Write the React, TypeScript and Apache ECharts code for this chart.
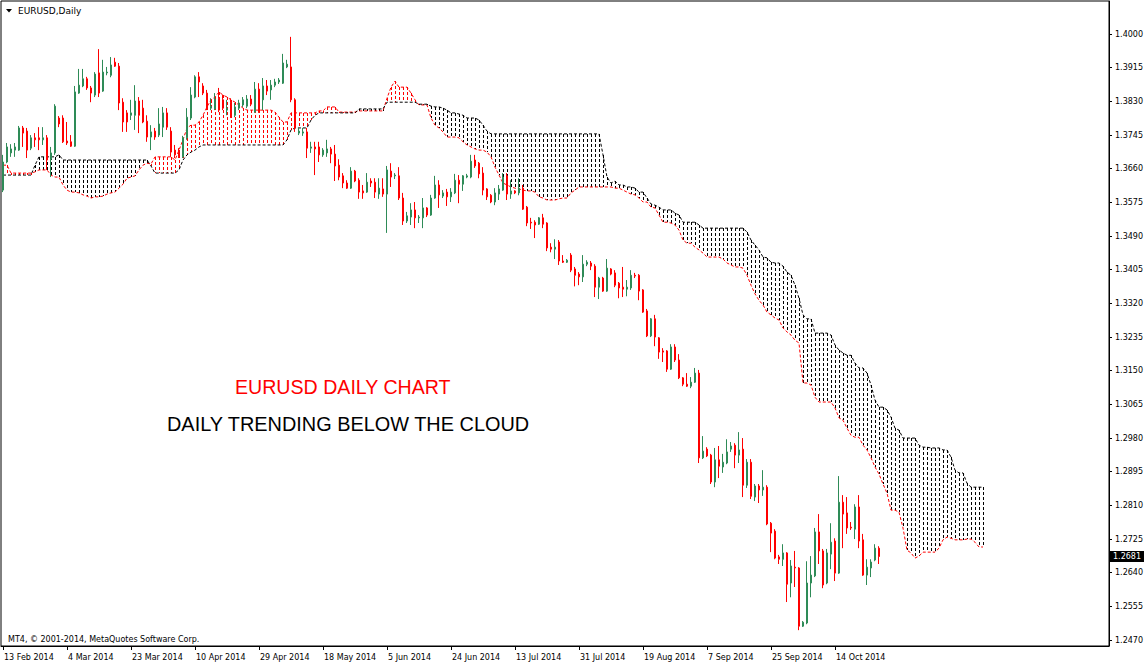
import React, { useEffect, useRef } from "react";
import * as echarts from "echarts";

// Date labels under the x axis, one every 16 daily bars (bar 0 = 13 Feb 2014)
const tickLabels = [
  "13 Feb 2014", "4 Mar 2014", "23 Mar 2014", "10 Apr 2014", "29 Apr 2014",
  "18 May 2014", "5 Jun 2014", "24 Jun 2014", "13 Jul 2014", "31 Jul 2014",
  "19 Aug 2014", "7 Sep 2014", "25 Sep 2014", "14 Oct 2014",
];
const LABEL_STEP = 16;
const TOTAL_SLOTS = 277;

// Price scale labels on the right
const priceTicks = [
  1.4, 1.3915, 1.383, 1.3745, 1.366, 1.3575, 1.349, 1.3405, 1.332, 1.3235,
  1.315, 1.3065, 1.298, 1.2895, 1.281, 1.2725, 1.264, 1.2555, 1.247,
];
const lastPrice = [1.2681];
const priceMin = 1.2455;
const priceMax = 1.40835;

// Daily candles: [open, close, low, high]
const candles = [
  [1.3606,1.3677,1.3601,1.3695],[1.3677,1.3715,1.3674,1.3725],[1.3700,1.3710,1.3690,1.3722],[1.3707,1.3715,1.3690,1.3725],
  [1.3707,1.3763,1.3705,1.3768],[1.3763,1.3750,1.3715,1.3768],[1.3755,1.3707,1.3687,1.3763],[1.3712,1.3738,1.3707,1.3745],
  [1.3738,1.3733,1.3715,1.3750],[1.3738,1.3733,1.3707,1.3765],[1.3733,1.3738,1.3720,1.3765],[1.3738,1.3682,1.3657,1.3745],
  [1.3684,1.3700,1.3639,1.3715],[1.3700,1.3818,1.3695,1.3823],[1.3788,1.3773,1.3765,1.3793],[1.3788,1.3728,1.3725,1.3795],
  [1.3730,1.3725,1.3720,1.3778],[1.3728,1.3717,1.3715,1.3745],[1.3717,1.3854,1.3715,1.3869],[1.3851,1.3871,1.3849,1.3912],
  [1.3869,1.3887,1.3866,1.3912],[1.3887,1.3864,1.3859,1.3892],[1.3864,1.3851,1.3828,1.3869],[1.3846,1.3899,1.3841,1.3904],
  [1.3902,1.3851,1.3841,1.3962],[1.3856,1.3904,1.3854,1.3935],[1.3902,1.3904,1.3896,1.3917],[1.3896,1.3922,1.3891,1.3942],
  [1.3929,1.3919,1.3917,1.3940],[1.3919,1.3826,1.3808,1.3927],[1.3828,1.3778,1.3753,1.3838],[1.3801,1.3778,1.3753,1.3808],
  [1.3795,1.3801,1.3783,1.3834],[1.3795,1.3831,1.3758,1.3871],[1.3831,1.3795,1.3750,1.3841],[1.3813,1.3778,1.3775,1.3834],
  [1.3780,1.3740,1.3728,1.3795],[1.3740,1.3753,1.3707,1.3770],[1.3755,1.3740,1.3733,1.3763],[1.3745,1.3773,1.3740,1.3813],
  [1.3765,1.3801,1.3740,1.3816],[1.3801,1.3765,1.3758,1.3813],[1.3755,1.3702,1.3690,1.3765],[1.3707,1.3695,1.3687,1.3720],
  [1.3700,1.3690,1.3687,1.3712],[1.3690,1.3738,1.3687,1.3743],[1.3738,1.3790,1.3733,1.3813],[1.3788,1.3846,1.3783,1.3866],
  [1.3841,1.3892,1.3838,1.3896],[1.3892,1.3879,1.3841,1.3904],[1.3869,1.3851,1.3846,1.3876],[1.3851,1.3813,1.3808,1.3859],
  [1.3813,1.3818,1.3808,1.3838],[1.3811,1.3836,1.3808,1.3851],[1.3838,1.3808,1.3803,1.3864],[1.3834,1.3813,1.3808,1.3846],
  [1.3808,1.3813,1.3795,1.3834],[1.3828,1.3790,1.3788,1.3838],[1.3795,1.3816,1.3790,1.3826],[1.3813,1.3826,1.3808,1.3834],
  [1.3821,1.3834,1.3816,1.3841],[1.3818,1.3836,1.3813,1.3846],[1.3836,1.3823,1.3818,1.3846],[1.3803,1.3861,1.3801,1.3879],
  [1.3861,1.3803,1.3801,1.3876],[1.3834,1.3869,1.3808,1.3889],[1.3869,1.3856,1.3846,1.3884],[1.3859,1.3871,1.3834,1.3884],
  [1.3871,1.3879,1.3866,1.3887],[1.3879,1.3884,1.3874,1.3889],[1.3876,1.3927,1.3874,1.3950],[1.3917,1.3924,1.3914,1.3935],
  [1.3917,1.3834,1.3828,1.3993],[1.3834,1.3763,1.3753,1.3838],[1.3750,1.3755,1.3745,1.3763],[1.3750,1.3753,1.3743,1.3763],
  [1.3753,1.3712,1.3687,1.3763],[1.3712,1.3715,1.3700,1.3728],[1.3715,1.3710,1.3644,1.3728],[1.3715,1.3695,1.3677,1.3728],
  [1.3695,1.3707,1.3690,1.3712],[1.3700,1.3710,1.3690,1.3733],[1.3710,1.3697,1.3674,1.3715],[1.3697,1.3667,1.3629,1.3720],
  [1.3669,1.3639,1.3631,1.3684],[1.3642,1.3624,1.3611,1.3649],[1.3624,1.3611,1.3609,1.3631],[1.3611,1.3654,1.3609,1.3664],
  [1.3654,1.3629,1.3626,1.3657],[1.3631,1.3601,1.3584,1.3636],[1.3604,1.3599,1.3584,1.3619],[1.3601,1.3626,1.3599,1.3649],
  [1.3629,1.3624,1.3614,1.3636],[1.3626,1.3601,1.3586,1.3636],[1.3596,1.3611,1.3584,1.3636],[1.3609,1.3596,1.3589,1.3636],
  [1.3596,1.3657,1.3498,1.3667],[1.3654,1.3639,1.3614,1.3674],[1.3642,1.3644,1.3634,1.3649],[1.3642,1.3586,1.3581,1.3664],
  [1.3586,1.3528,1.3518,1.3599],[1.3528,1.3541,1.3523,1.3551],[1.3538,1.3556,1.3518,1.3573],[1.3556,1.3536,1.3510,1.3576],
  [1.3536,1.3538,1.3523,1.3543],[1.3536,1.3561,1.3510,1.3586],[1.3561,1.3543,1.3538,1.3563],[1.3543,1.3586,1.3541,1.3594],
  [1.3586,1.3619,1.3584,1.3642],[1.3619,1.3594,1.3561,1.3631],[1.3591,1.3599,1.3586,1.3606],[1.3601,1.3589,1.3566,1.3609],
  [1.3589,1.3601,1.3576,1.3611],[1.3599,1.3631,1.3596,1.3647],[1.3631,1.3621,1.3573,1.3644],[1.3621,1.3642,1.3604,1.3644],
  [1.3639,1.3642,1.3636,1.3647],[1.3639,1.3679,1.3636,1.3695],[1.3682,1.3667,1.3662,1.3695],[1.3674,1.3647,1.3636,1.3677],
  [1.3649,1.3606,1.3593,1.3664],[1.3609,1.3589,1.3581,1.3611],[1.3593,1.3576,1.3573,1.3596],[1.3576,1.3599,1.3568,1.3611],
  [1.3596,1.3609,1.3581,1.3619],[1.3606,1.3639,1.3604,1.3649],[1.3642,1.3596,1.3581,1.3649],[1.3596,1.3604,1.3584,1.3631],
  [1.3604,1.3599,1.3596,1.3606],[1.3599,1.3611,1.3593,1.3636],[1.3611,1.3558,1.3556,1.3619],[1.3563,1.3523,1.3515,1.3566],
  [1.3525,1.3523,1.3508,1.3536],[1.3525,1.3518,1.3485,1.3530],[1.3520,1.3536,1.3518,1.3538],[1.3536,1.3520,1.3510,1.3546],
  [1.3523,1.3460,1.3452,1.3525],[1.3462,1.3457,1.3449,1.3472],[1.3457,1.3462,1.3432,1.3482],[1.3475,1.3427,1.3417,1.3480],
  [1.3427,1.3424,1.3422,1.3442],[1.3424,1.3429,1.3422,1.3432],[1.3442,1.3404,1.3399,1.3447],[1.3407,1.3391,1.3363,1.3412],
  [1.3394,1.3387,1.3366,1.3399],[1.3387,1.3419,1.3374,1.3442],[1.3419,1.3424,1.3414,1.3429],[1.3422,1.3414,1.3404,1.3427],
  [1.3414,1.3361,1.3336,1.3419],[1.3361,1.3384,1.3331,1.3387],[1.3384,1.3351,1.3349,1.3387],[1.3351,1.3409,1.3349,1.3432],
  [1.3407,1.3394,1.3391,1.3409],[1.3397,1.3366,1.3361,1.3404],[1.3371,1.3359,1.3333,1.3374],[1.3361,1.3356,1.3336,1.3412],
  [1.3356,1.3361,1.3338,1.3379],[1.3359,1.3391,1.3354,1.3404],[1.3391,1.3389,1.3384,1.3397],[1.3391,1.3351,1.3328,1.3394],
  [1.3354,1.3298,1.3296,1.3356],[1.3301,1.3238,1.3235,1.3306],[1.3238,1.3281,1.3235,1.3283],[1.3281,1.3235,1.3212,1.3291],
  [1.3233,1.3197,1.3180,1.3235],[1.3200,1.3197,1.3172,1.3207],[1.3200,1.3154,1.3147,1.3202],[1.3154,1.3210,1.3152,1.3217],
  [1.3210,1.3177,1.3172,1.3217],[1.3177,1.3132,1.3129,1.3192],[1.3132,1.3116,1.3111,1.3134],[1.3116,1.3111,1.3109,1.3144],
  [1.3111,1.3121,1.3106,1.3134],[1.3121,1.3144,1.3119,1.3157],[1.3144,1.2930,1.2917,1.3152],[1.2930,1.2947,1.2927,1.2985],
  [1.2952,1.2935,1.2932,1.2957],[1.2937,1.2869,1.2864,1.2940],[1.2869,1.2925,1.2856,1.2955],[1.2925,1.2909,1.2879,1.2960],
  [1.2907,1.2919,1.2892,1.2940],[1.2917,1.2945,1.2914,1.2977],[1.2952,1.2960,1.2945,1.2970],[1.2962,1.2937,1.2904,1.2967],
  [1.2937,1.2950,1.2917,1.2995],[1.2952,1.2861,1.2831,1.2980],[1.2861,1.2919,1.2854,1.2927],[1.2919,1.2833,1.2826,1.2927],
  [1.2831,1.2859,1.2821,1.2864],[1.2859,1.2849,1.2816,1.2864],[1.2849,1.2856,1.2834,1.2899],[1.2856,1.2763,1.2760,1.2861],
  [1.2765,1.2740,1.2692,1.2768],[1.2745,1.2677,1.2674,1.2750],[1.2680,1.2674,1.2662,1.2685],[1.2674,1.2690,1.2657,1.2712],
  [1.2690,1.2611,1.2566,1.2692],[1.2614,1.2657,1.2578,1.2672],[1.2654,1.2652,1.2604,1.2695],[1.2652,1.2505,1.2495,1.2654],
  [1.2505,1.2515,1.2503,1.2518],[1.2513,1.2614,1.2510,1.2669],[1.2614,1.2634,1.2578,1.2682],[1.2632,1.2743,1.2629,1.2753],
  [1.2743,1.2695,1.2662,1.2788],[1.2695,1.2609,1.2601,1.2700],[1.2614,1.2690,1.2611,1.2700],[1.2687,1.2717,1.2649,1.2765],
  [1.2720,1.2639,1.2619,1.2727],[1.2639,1.2818,1.2637,1.2884],[1.2818,1.2788,1.2702,1.2836],[1.2791,1.2753,1.2738,1.2831],
  [1.2755,1.2753,1.2748,1.2768],[1.2750,1.2806,1.2725,1.2813],[1.2806,1.2720,1.2702,1.2836],[1.2723,1.2634,1.2632,1.2738],
  [1.2634,1.2654,1.2609,1.2674],[1.2652,1.2667,1.2629,1.2674],[1.2672,1.2702,1.2669,1.2712],[1.2702,1.2681,1.2662,1.2707],
];

// Ichimoku Senkou Span A (red) per bar, incl. 26 bars ahead
const spanA = [
  1.3669,1.3669,1.3649,1.3649,1.3649,1.3649,1.3649,1.3649,1.3652,1.3657,
  1.3657,1.3657,1.3644,1.3639,1.3639,1.3619,1.3606,1.3601,1.3601,1.3599,
  1.3594,1.3591,1.3586,1.3589,1.3589,1.3591,1.3596,1.3599,1.3601,1.3611,
  1.3621,1.3636,1.3639,1.3642,1.3657,1.3669,1.3674,1.3672,1.3690,1.3690,
  1.3690,1.3690,1.3690,1.3682,1.3707,1.3733,1.3763,1.3770,1.3770,1.3778,
  1.3795,1.3816,1.3834,1.3841,1.3854,1.3846,1.3841,1.3834,1.3828,1.3821,
  1.3813,1.3808,1.3808,1.3808,1.3808,1.3808,1.3808,1.3808,1.3803,1.3790,
  1.3778,1.3778,1.3801,1.3801,1.3801,1.3801,1.3801,1.3801,1.3801,1.3806,
  1.3806,1.3816,1.3816,1.3816,1.3803,1.3803,1.3803,1.3803,1.3803,1.3806,
  1.3806,1.3806,1.3806,1.3806,1.3806,1.3806,1.3838,1.3866,1.3881,1.3866,
  1.3866,1.3866,1.3851,1.3834,1.3821,1.3821,1.3821,1.3788,1.3770,1.3763,
  1.3753,1.3740,1.3740,1.3740,1.3738,1.3728,1.3720,1.3715,1.3710,1.3707,
  1.3707,1.3702,1.3690,1.3664,1.3644,1.3624,1.3619,1.3614,1.3611,1.3609,
  1.3606,1.3604,1.3604,1.3601,1.3589,1.3586,1.3581,1.3581,1.3581,1.3584,
  1.3586,1.3586,1.3599,1.3606,1.3614,1.3614,1.3614,1.3614,1.3614,1.3614,
  1.3614,1.3614,1.3614,1.3611,1.3611,1.3606,1.3601,1.3596,1.3594,1.3586,
  1.3576,1.3576,1.3563,1.3561,1.3543,1.3525,1.3525,1.3523,1.3518,1.3505,
  1.3480,1.3472,1.3472,1.3462,1.3455,1.3447,1.3437,1.3437,1.3437,1.3437,
  1.3432,1.3422,1.3417,1.3412,1.3412,1.3409,1.3391,1.3366,1.3344,1.3328,
  1.3316,1.3298,1.3291,1.3283,1.3278,1.3258,1.3248,1.3240,1.3227,1.3220,
  1.3119,1.3119,1.3114,1.3083,1.3071,1.3071,1.3071,1.3071,1.3056,1.3031,
  1.3025,1.3005,1.2987,1.2982,1.2982,1.2962,1.2950,1.2930,1.2907,1.2889,
  1.2864,1.2841,1.2798,1.2798,1.2793,1.2753,1.2697,1.2690,1.2677,1.2682,
  1.2692,1.2692,1.2692,1.2692,1.2702,1.2723,1.2730,1.2727,1.2723,1.2723,
  1.2723,1.2725,1.2725,1.2717,1.2705,1.2705,
];

// Ichimoku Senkou Span B (black) per bar, incl. 26 bars ahead
const spanB = [
  1.3644,1.3644,1.3644,1.3644,1.3644,1.3644,1.3644,1.3644,1.3669,1.3690,
  1.3690,1.3690,1.3690,1.3690,1.3695,1.3682,1.3682,1.3682,1.3682,1.3682,
  1.3682,1.3682,1.3682,1.3682,1.3682,1.3682,1.3682,1.3682,1.3682,1.3682,
  1.3682,1.3682,1.3682,1.3682,1.3682,1.3682,1.3682,1.3667,1.3649,1.3649,
  1.3649,1.3649,1.3649,1.3649,1.3657,1.3682,1.3695,1.3702,1.3707,1.3715,
  1.3720,1.3720,1.3720,1.3720,1.3720,1.3720,1.3720,1.3720,1.3720,1.3720,
  1.3720,1.3720,1.3720,1.3720,1.3720,1.3720,1.3720,1.3720,1.3720,1.3720,
  1.3720,1.3733,1.3758,1.3763,1.3763,1.3763,1.3763,1.3783,1.3795,1.3801,
  1.3801,1.3801,1.3801,1.3801,1.3801,1.3801,1.3801,1.3801,1.3801,1.3811,
  1.3811,1.3811,1.3811,1.3811,1.3811,1.3811,1.3828,1.3828,1.3828,1.3828,
  1.3828,1.3828,1.3828,1.3828,1.3823,1.3823,1.3823,1.3818,1.3816,1.3816,
  1.3813,1.3808,1.3801,1.3801,1.3798,1.3795,1.3788,1.3788,1.3788,1.3783,
  1.3770,1.3755,1.3748,1.3748,1.3748,1.3748,1.3748,1.3748,1.3748,1.3748,
  1.3748,1.3748,1.3748,1.3748,1.3748,1.3748,1.3748,1.3748,1.3748,1.3748,
  1.3748,1.3748,1.3748,1.3748,1.3748,1.3748,1.3748,1.3748,1.3748,1.3748,
  1.3695,1.3639,1.3624,1.3629,1.3619,1.3619,1.3614,1.3614,1.3611,1.3601,
  1.3601,1.3586,1.3571,1.3568,1.3563,1.3556,1.3556,1.3556,1.3548,1.3543,
  1.3525,1.3525,1.3525,1.3525,1.3518,1.3510,1.3510,1.3510,1.3510,1.3510,
  1.3510,1.3510,1.3510,1.3510,1.3510,1.3510,1.3500,1.3480,1.3467,1.3455,
  1.3437,1.3435,1.3424,1.3422,1.3422,1.3414,1.3399,1.3391,1.3366,1.3333,
  1.3291,1.3281,1.3281,1.3245,1.3245,1.3245,1.3245,1.3240,1.3215,1.3202,
  1.3195,1.3189,1.3189,1.3169,1.3157,1.3157,1.3144,1.3114,1.3076,1.3058,
  1.3058,1.3051,1.3033,1.3005,1.3000,1.2980,1.2980,1.2980,1.2980,1.2962,
  1.2957,1.2957,1.2955,1.2955,1.2955,1.2950,1.2950,1.2932,1.2899,1.2892,
  1.2892,1.2866,1.2856,1.2856,1.2856,1.2856,
];

const UP = "#2E8B57";
const DOWN = "#FF0000";
const AXIS_FONT = "DejaVu Sans";

export default function App() {
  const ref = useRef<HTMLDivElement>(null);

  useEffect(() => {
    document.body.style.margin = "0";
    if (!ref.current) return;
    const chart = echarts.init(ref.current, null, { renderer: "svg" });
    const categories = Array.from({ length: TOTAL_SLOTS }, (_, i) => String(i));
    const cloud = spanA.map((a, i) => [i, a, spanB[i]]);
    const showLabel = (index: number) =>
      index % LABEL_STEP === 0 && index / LABEL_STEP < tickLabels.length;

    chart.setOption({
      animation: false,
      backgroundColor: "#ffffff",
      grid: {
        left: 1,
        top: 1,
        width: 1108,
        height: 645,
        show: true,
        borderColor: "#000",
        borderWidth: 1,
        backgroundColor: "#fff",
        containLabel: false,
      },
      xAxis: {
        type: "category",
        data: categories,
        boundaryGap: true,
        axisLine: { show: true, lineStyle: { color: "#000", width: 1 } },
        axisTick: {
          show: true,
          alignWithLabel: true,
          interval: (index: number) => showLabel(index),
          length: 4,
          lineStyle: { color: "#000" },
        },
        axisLabel: {
          interval: (index: number) => showLabel(index),
          formatter: (_v: string, index: number) => tickLabels[Math.round(index / LABEL_STEP)] ?? "",
          align: "left",
          color: "#000",
          fontFamily: AXIS_FONT,
          fontSize: 8,
          margin: 7,
          padding: [0, 0, 0, 1],
          hideOverlap: false,
        },
        splitLine: { show: false },
      },
      yAxis: [
        {
          type: "value",
          position: "right",
          min: priceMin,
          max: priceMax,
          axisLine: { show: true, lineStyle: { color: "#000", width: 1 } },
          axisTick: {
            show: true,
            customValues: priceTicks,
            length: 3,
            lineStyle: { color: "#000" },
          },
          axisLabel: {
            customValues: priceTicks,
            formatter: (v: number) => v.toFixed(4),
            color: "#000",
            fontFamily: AXIS_FONT,
            fontSize: 8,
            margin: 6,
          },
          splitLine: { show: false },
        },
        {
          type: "value",
          position: "right",
          min: priceMin,
          max: priceMax,
          axisLine: { show: false },
          axisTick: { show: false },
          splitLine: { show: false },
          axisLabel: {
            customValues: lastPrice,
            formatter: (v: number) => v.toFixed(4),
            color: "#fff",
            backgroundColor: "#000",
            padding: [2, 3, 1, 3],
            fontFamily: AXIS_FONT,
            fontSize: 8,
            margin: 1,
          },
        },
      ],
      series: [
        {
          name: "Kumo",
          type: "custom",
          z: 1,
          data: cloud,
          encode: { x: 0, y: [1, 2] },
          renderItem: (_params: any, api: any) => {
            const i = api.value(0);
            const a = api.value(1);
            const b = api.value(2);
            const top = api.coord([i, Math.max(a, b)]);
            const bot = api.coord([i, Math.min(a, b)]);
            const x = Math.round(top[0]) + 0.5;
            return {
              type: "line",
              shape: { x1: x, y1: Math.round(top[1]), x2: x, y2: Math.round(bot[1]) },
              style: {
                stroke: a > b ? DOWN : "#000",
                lineWidth: 1,
                lineDash: [3, 2],
              },
            };
          },
        },
        {
          name: "Senkou Span A",
          type: "line",
          z: 2,
          data: spanA,
          symbol: "none",
          lineStyle: { color: DOWN, width: 1, type: [3, 2] },
        },
        {
          name: "Senkou Span B",
          type: "line",
          z: 2,
          data: spanB,
          symbol: "none",
          lineStyle: { color: "#000", width: 1, type: [3, 2] },
        },
        {
          name: "EURUSD",
          type: "candlestick",
          z: 3,
          data: candles,
          barWidth: 2,
          itemStyle: {
            color: UP,
            color0: DOWN,
            borderColor: UP,
            borderColor0: DOWN,
            borderColorDoji: UP,
            borderWidth: 1,
          },
        },
      ],
      graphic: [
        {
          type: "polygon",
          shape: { points: [[6, 9], [12, 9], [9, 12.5]] },
          style: { fill: "#000" },
        },
        {
          type: "text",
          x: 18,
          y: 11,
          style: {
            text: "EURUSD,Daily",
            fill: "#000",
            font: '9px "DejaVu Sans"',
            verticalAlign: "middle",
          },
        },
        {
          type: "text",
          x: 8,
          y: 639,
          style: {
            text: "MT4, © 2001-2014, MetaQuotes Software Corp.",
            fill: "#000",
            font: '8px "DejaVu Sans"',
            verticalAlign: "middle",
          },
        },
        {
          type: "text",
          x: 235,
          y: 387,
          style: {
            text: "EURUSD DAILY CHART",
            fill: "#FF0000",
            font: '19.6px "Liberation Sans"',
            verticalAlign: "middle",
          },
        },
        {
          type: "text",
          x: 167,
          y: 424,
          style: {
            text: "DAILY TRENDING BELOW THE CLOUD",
            fill: "#000",
            font: '19.9px "Liberation Sans"',
            verticalAlign: "middle",
          },
        },
      ],
    });

    return () => chart.dispose();
  }, []);

  return <div ref={ref} style={{ width: 1148, height: 663 }} />;
}
